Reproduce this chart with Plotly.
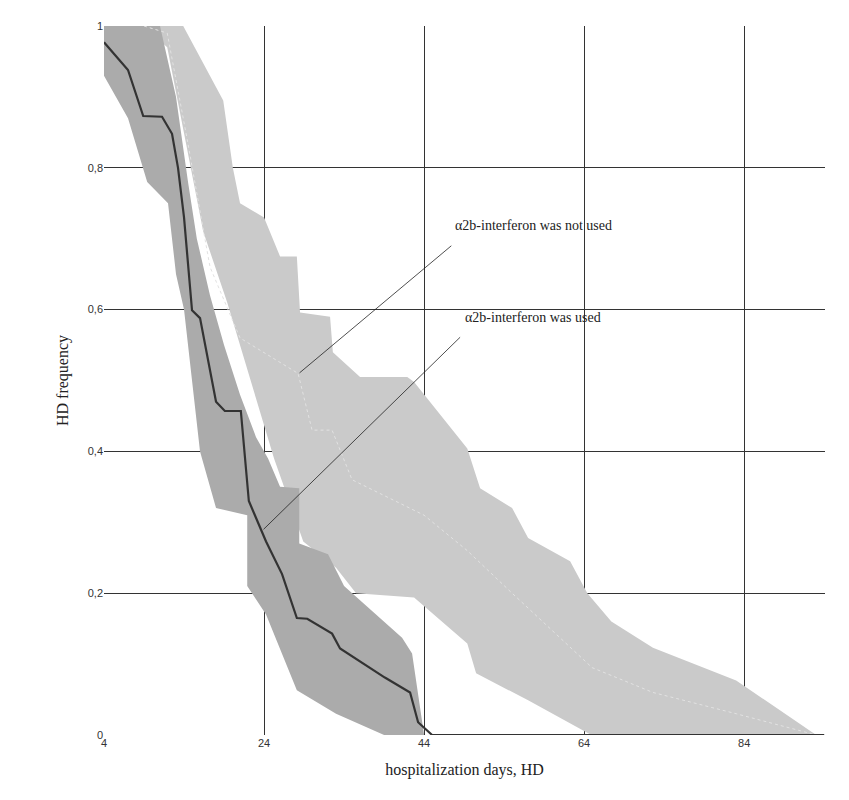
import plotly.graph_objects as go

# alpha2b-interferon used: median curve
used_x = [4, 7, 8.9, 11.25, 12.5, 13.25, 14, 15, 16, 18, 19.1, 21.1, 22.1, 24.25, 26.25, 28.1, 29.4, 32.5, 33.5, 39.1, 42.25, 43.25, 45, 94]
used_y = [0.977, 0.938, 0.873, 0.872, 0.848, 0.80, 0.73, 0.599, 0.588, 0.47, 0.457, 0.457, 0.33, 0.273, 0.227, 0.165, 0.164, 0.143, 0.122, 0.081, 0.06, 0.018, 0, 0]
used_up_x = [4, 11, 13, 14.5, 15.6, 17.25, 19, 21, 23, 24.5, 26, 28.4, 28.4, 32, 34, 41.25, 42.5, 44]
used_up_y = [1, 1, 0.9, 0.78, 0.70, 0.62, 0.55, 0.48, 0.42, 0.39, 0.35, 0.348, 0.27, 0.255, 0.21, 0.137, 0.115, 0]
used_lo_x = [4, 7, 9.4, 12, 13, 14, 16, 18, 21.9, 21.9, 24.25, 28.1, 33, 39, 44]
used_lo_y = [0.93, 0.87, 0.78, 0.75, 0.65, 0.60, 0.40, 0.32, 0.31, 0.21, 0.17, 0.063, 0.03, 0, 0]

# alpha2b-interferon not used
not_x = [9, 11.9, 14.4, 17.25, 21, 28.25, 30, 32.5, 35, 44, 49.4, 55, 65, 72.6, 83, 93]
not_y = [1, 0.99, 0.84, 0.66, 0.56, 0.51, 0.43, 0.43, 0.36, 0.31, 0.26, 0.20, 0.095, 0.06, 0.03, 0]
not_up_x = [8.9, 13.9, 18.9, 20.1, 21, 24, 26, 28.1, 28.5, 32.25, 32.6, 36, 41.9, 42.75, 49.4, 51, 55, 57, 62.25, 64.4, 67.4, 72.6, 83, 93]
not_up_y = [1, 1, 0.895, 0.80, 0.75, 0.73, 0.675, 0.675, 0.596, 0.59, 0.54, 0.505, 0.505, 0.498, 0.404, 0.348, 0.32, 0.278, 0.245, 0.20, 0.16, 0.123, 0.077, 0]
not_lo_x = [8.9, 11.9, 16.4, 19.4, 25.25, 28.9, 33, 35.5, 42.75, 49.4, 50.5, 57, 64.9, 93]
not_lo_y = [1, 0.97, 0.71, 0.61, 0.39, 0.273, 0.236, 0.20, 0.194, 0.129, 0.087, 0.049, 0, 0]

x_ticks = [4, 24, 44, 64, 84]
y_ticks = [0, 0.2, 0.4, 0.6, 0.8, 1]
y_ticktext = ["0", "0,2", "0,4", "0,6", "0,8", "1"]

fig = go.Figure()
fig.add_trace(go.Scatter(x=not_up_x + not_lo_x[::-1], y=not_up_y + not_lo_y[::-1], fill="toself",
                         fillcolor="#cacaca", line=dict(width=0), mode="lines", hoverinfo="skip"))
fig.add_trace(go.Scatter(x=used_up_x + used_lo_x[::-1], y=used_up_y + used_lo_y[::-1], fill="toself",
                         fillcolor="#ababab", line=dict(width=0), mode="lines", hoverinfo="skip"))
fig.add_trace(go.Scatter(x=not_x, y=not_y, mode="lines", line=dict(color="#e2e2e2", width=1, dash="dot")))
fig.add_trace(go.Scatter(x=used_x, y=used_y, mode="lines", line=dict(color="#333333", width=2.2)))

serif = "Liberation Serif"
fig.add_annotation(x=47.4, y=0.69, ax=28.25, ay=0.509, axref="x", ayref="y", showarrow=True,
                   arrowhead=0, arrowwidth=0.8, arrowcolor="#222", text="")
fig.add_annotation(x=48.5, y=0.561, ax=23.75, ay=0.288, axref="x", ayref="y", showarrow=True,
                   arrowhead=0, arrowwidth=0.8, arrowcolor="#222", text="")
fig.add_annotation(x=47.6, y=0.705, text="α2b-interferon was not used", showarrow=False,
                   xanchor="left", yanchor="bottom", font=dict(family=serif, size=14, color="#222"))
fig.add_annotation(x=48.8, y=0.575, text="α2b-interferon was used", showarrow=False,
                   xanchor="left", yanchor="bottom", font=dict(family=serif, size=14, color="#222"))

fig.update_layout(
    width=849, height=800, showlegend=False,
    plot_bgcolor="white", paper_bgcolor="white",
    margin=dict(l=96, r=32, t=14, b=73),
    xaxis=dict(range=[4, 94.1], tickvals=x_ticks, showgrid=True, gridcolor="#333", gridwidth=1,
               zeroline=False, showline=False, ticks="", layer="above traces",
               tickfont=dict(family="Liberation Sans Narrow, Liberation Sans", size=11, color="#333"),
               title=dict(text="hospitalization days, HD", font=dict(family=serif, size=16, color="#222"))),
    yaxis=dict(range=[0, 1], tickvals=y_ticks, ticktext=y_ticktext, showgrid=True, gridcolor="#333",
               gridwidth=1, zeroline=False, showline=False, ticks="", layer="above traces",
               tickfont=dict(family="Liberation Sans", size=11, color="#333"),
               title=dict(text="HD frequency", font=dict(family=serif, size=16, color="#222"))),
)
fig.write_html("out.html")
